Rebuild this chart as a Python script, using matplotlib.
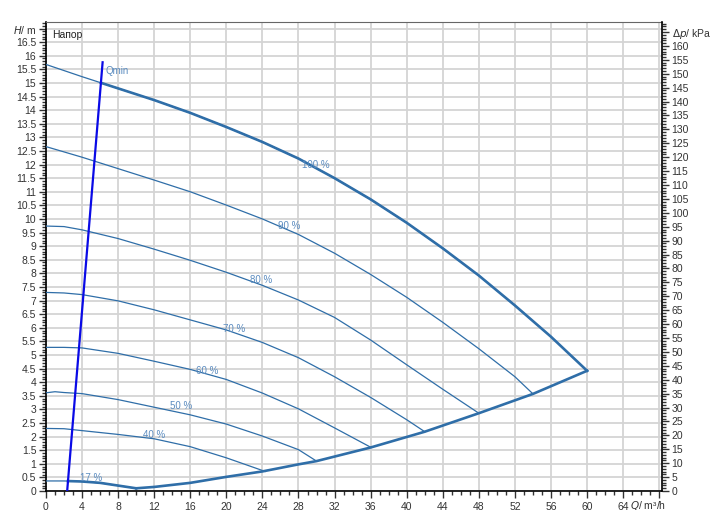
import numpy as np
import matplotlib.pyplot as plt
from matplotlib.ticker import MultipleLocator, FuncFormatter

plt.rcParams['font.family'] = ['Liberation Sans', 'DejaVu Sans']

# speed curves (Q in m3/h, H in m)
q100 = [0, 4, 8, 12, 16, 20, 24, 28, 32, 36, 40, 44, 48, 52, 56, 60]
h100 = [15.68, 15.23, 14.80, 14.37, 13.90, 13.38, 12.83, 12.22, 11.50, 10.72, 9.86, 8.92, 7.92, 6.82, 5.67, 4.42]
q90 = [0, 4, 8, 12, 16, 20, 24, 28, 32, 36, 40, 44, 48, 52, 54]
h90 = [12.66, 12.27, 11.85, 11.43, 11.0, 10.51, 10.0, 9.43, 8.74, 7.96, 7.12, 6.2, 5.23, 4.20, 3.57]
q80 = [0, 2, 4, 8, 12, 16, 20, 24, 28, 32, 36, 40, 44, 48]
h80 = [9.74, 9.72, 9.60, 9.28, 8.89, 8.48, 8.04, 7.56, 7.02, 6.38, 5.55, 4.64, 3.74, 2.86]
q70 = [0, 2, 4, 8, 12, 16, 20, 24, 28, 32, 36, 40, 42]
h70 = [7.30, 7.28, 7.22, 6.99, 6.66, 6.29, 5.92, 5.46, 4.90, 4.20, 3.44, 2.62, 2.18]
q60 = [0, 2, 4, 8, 12, 16, 20, 24, 28, 32, 36]
h60 = [5.28, 5.28, 5.26, 5.06, 4.77, 4.47, 4.10, 3.60, 3.02, 2.32, 1.61]
q50 = [0, 1, 2, 4, 8, 12, 16, 20, 24, 28, 30]
h50 = [3.61, 3.65, 3.62, 3.58, 3.36, 3.08, 2.80, 2.46, 2.02, 1.52, 1.10]
q40 = [0, 2, 4, 8, 12, 16, 20, 24.3]
h40 = [2.30, 2.29, 2.22, 2.08, 1.92, 1.63, 1.22, 0.72]
q17 = [0, 2, 4, 6, 8, 10]
h17 = [0.37, 0.37, 0.35, 0.30, 0.20, 0.10]

# end-of-curve (system) line
qsys = [10, 12, 16, 20, 24, 28, 30, 36, 42, 48, 54, 60]
hsys = [0.10, 0.15, 0.30, 0.52, 0.72, 0.98, 1.10, 1.60, 2.18, 2.86, 3.57, 4.42]

# Qmin line
qmin_q = [2.35, 6.28]
qmin_h = [0.0, 15.76]

curve_labels = ['100 %', '90 %', '80 %', '70 %', '60 %', '50 %', '40 %', '17 %']
label_q = [29.9, 27.0, 23.9, 20.9, 17.9, 15.0, 12.0, 5.0]
label_h = [12.0, 9.74, 7.76, 5.96, 4.41, 3.13, 2.06, 0.48]

KPA_PER_M = 9.78

col = '#2f6ea8'
lab_col = '#5b8cc0'
tick_col = '#333333'

fig = plt.figure(figsize=(7.15, 5.29), dpi=100)
ax = fig.add_axes([0.0643, 0.0718, 0.8615, 0.8866])
ax.set_xlim(0, 68.3)
ax.set_ylim(0, 17.24)

ax.xaxis.set_major_locator(MultipleLocator(4))
ax.xaxis.set_minor_locator(MultipleLocator(1))
ax.yaxis.set_major_locator(MultipleLocator(0.5))
ax.yaxis.set_minor_locator(MultipleLocator(0.1))
ax.grid(True, which='major', color='#d4d4d4', lw=1.3)
ax.set_axisbelow(True)


def xfmt(v, pos):
    if v > 66:
        return ''
    return '%g' % v


def yfmt(v, pos):
    if v > 16.9:
        return '$H$/ m'
    return '%g' % v


ax.xaxis.set_major_formatter(FuncFormatter(xfmt))
ax.yaxis.set_major_formatter(FuncFormatter(yfmt))
ax.tick_params(which='major', length=5, width=1, labelsize=7.5, colors=tick_col, pad=2)
ax.tick_params(which='minor', length=3, width=1, colors=tick_col)
ax.tick_params(axis='x', pad=3)
ax.spines['top'].set_color('#666666')
ax.spines['right'].set_visible(False)
for s in ['left', 'bottom']:
    ax.spines[s].set_color('black')
    ax.spines[s].set_linewidth(1.2)

ax2 = ax.twinx()
ax2.set_ylim(0, 17.24 * KPA_PER_M)
ax2.yaxis.set_major_locator(MultipleLocator(5))
ax2.yaxis.set_minor_locator(MultipleLocator(1))


def pfmt(v, pos):
    if v > 162:
        return r'$\Delta p$/ kPa'
    return '%g' % v


ax2.yaxis.set_major_formatter(FuncFormatter(pfmt))
ax2.tick_params(which='major', length=5, width=1, labelsize=7.5, colors=tick_col, pad=2)
ax2.tick_params(which='minor', length=3, width=1, colors=tick_col)
for s in ['left', 'bottom', 'top']:
    ax2.spines[s].set_visible(False)
ax2.spines['right'].set_color('black')
ax2.spines['right'].set_linewidth(1.2)

ax.text(66.8, -0.3, '$Q$/ m³/h', fontsize=7.5, color=tick_col, ha='center', va='top')
ax.text(0.7, 16.75, 'Напор', fontsize=7.5, color='#222222', ha='left', va='center')

# thin curves
for q, h in [(q100, h100), (q90, h90), (q80, h80), (q70, h70),
             (q60, h60), (q50, h50), (q40, h40), (q17, h17)]:
    ax.plot(q, h, color=col, lw=0.9, zorder=3)


def cross_qmin(q, h):
    # Q where the curve meets the Qmin line
    qq = np.linspace(q[0], q[-1], 2000)
    hq = np.interp(qq, q, h)
    hl = np.interp(qq, qmin_q, qmin_h, left=-1, right=99)
    i = np.argmin(np.abs(hq - hl))
    return qq[i]


# thick operating envelope
for q, h in [(q100, h100), (q17, h17)]:
    qc = cross_qmin(q, h)
    qq = np.concatenate([[qc], [v for v in q if v > qc]])
    ax.plot(qq, np.interp(qq, q, h), color=col, lw=1.9, zorder=4)
ax.plot(qsys, hsys, color=col, lw=1.9, zorder=4)

ax.plot(qmin_q, qmin_h, color='#0a0ae6', lw=1.6, zorder=5)
ax.text(6.55, 15.45, 'Qmin', fontsize=7, color=lab_col, ha='left', va='center')

for t, x, y in zip(curve_labels, label_q, label_h):
    ax.text(x, y, t, fontsize=7, color=lab_col, ha='center', va='center', zorder=6)

fig.savefig('out.png', dpi=100)
